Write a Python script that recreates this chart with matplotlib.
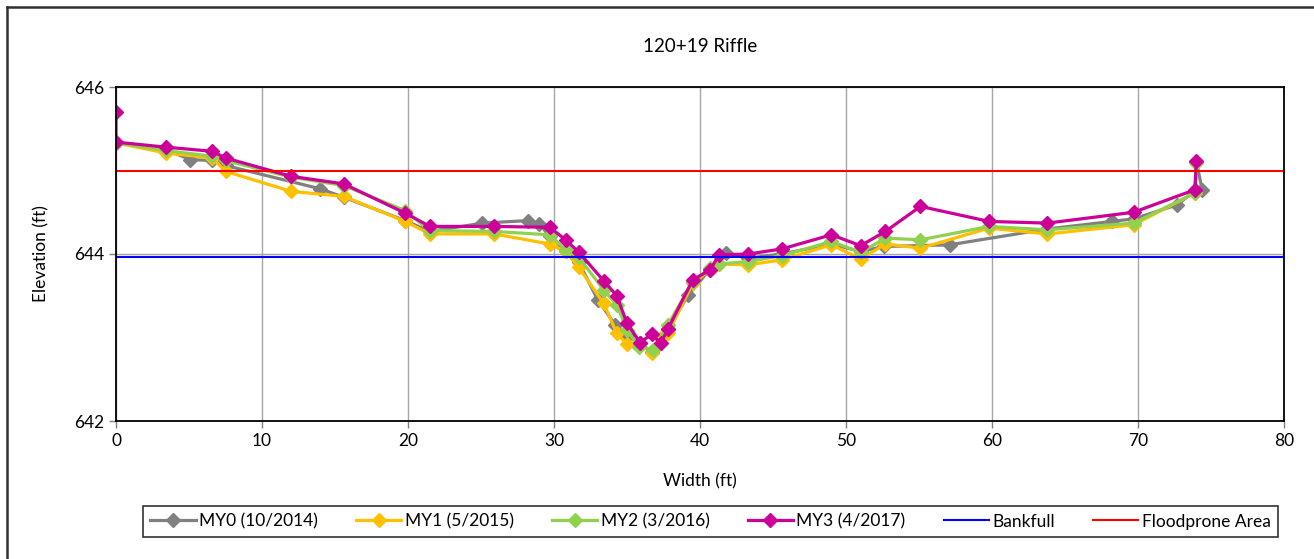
import matplotlib
matplotlib.use('Agg')
import matplotlib.pyplot as plt
from matplotlib.lines import Line2D

plt.rcParams['font.family'] = ['Lato', 'DejaVu Sans']

# cross-section survey data (width ft, elevation ft)
my0_x = [0, 3.4, 5.1, 6.6, 7.5, 14.0, 15.6, 19.8, 21.5, 25.1, 28.2, 29.0, 29.7, 30.8, 31.7, 33.0,
         34.2, 35.0, 35.9, 36.7, 37.8, 39.2, 40.7, 41.8, 43.3, 45.6, 49.0, 51.0, 52.6, 57.1, 63.8,
         68.2, 69.7, 72.7, 73.9, 74.0, 74.4]
my0_y = [645.33, 645.25, 645.13, 645.12, 645.06, 644.78, 644.68, 644.40, 644.27, 644.37, 644.40,
         644.36, 644.21, 644.03, 643.90, 643.45, 643.15, 643.02, 642.93, 642.83, 643.10, 643.51,
         643.82, 644.01, 643.95, 644.00, 644.12, 644.03, 644.09, 644.11, 644.30, 644.39, 644.42,
         644.59, 644.76, 645.10, 644.77]

my1_x = [0, 3.4, 6.6, 7.5, 12.0, 15.6, 19.8, 21.5, 25.9, 29.7, 30.8, 31.7, 33.4, 34.3, 35.0, 35.9,
         36.7, 37.3, 37.8, 39.5, 40.7, 41.3, 43.3, 45.6, 49.0, 51.0, 52.7, 55.1, 59.8, 63.8, 69.7,
         73.9, 74.0]
my1_y = [645.33, 645.21, 645.15, 644.99, 644.75, 644.69, 644.39, 644.24, 644.24, 644.12, 644.03,
         643.84, 643.41, 643.05, 642.92, 642.93, 642.81, 642.99, 643.05, 643.65, 643.81, 643.88,
         643.87, 643.93, 644.11, 643.94, 644.12, 644.07, 644.31, 644.24, 644.35, 644.73, 645.10]

my2_x = [0, 3.4, 6.6, 7.5, 12.0, 15.6, 19.8, 21.5, 25.9, 29.7, 30.8, 31.7, 33.4, 34.3, 35.0, 35.8,
         36.8, 37.8, 39.5, 40.7, 41.3, 43.3, 45.6, 49.0, 51.0, 52.7, 55.1, 59.8, 63.8, 69.7, 73.9,
         74.0]
my2_y = [645.33, 645.24, 645.17, 645.12, 644.92, 644.82, 644.52, 644.28, 644.27, 644.23, 644.05,
         643.96, 643.57, 643.39, 643.09, 642.89, 642.85, 643.15, 643.67, 643.83, 643.88, 643.91,
         643.98, 644.15, 644.02, 644.19, 644.17, 644.33, 644.29, 644.37, 644.73, 645.09]

my3_x = [0, 0, 3.4, 6.6, 7.5, 12.0, 15.6, 19.8, 21.5, 25.9, 29.7, 30.8, 31.7, 33.4, 34.3, 35.0,
         35.9, 36.7, 37.3, 37.8, 39.5, 40.7, 41.3, 43.3, 45.6, 49.0, 51.0, 52.7, 55.1, 59.8, 63.8,
         69.7, 73.9, 74.0]
my3_y = [645.70, 645.34, 645.28, 645.23, 645.15, 644.93, 644.84, 644.49, 644.33, 644.33, 644.32,
         644.17, 644.02, 643.68, 643.50, 643.17, 642.94, 643.04, 642.93, 643.10, 643.69, 643.81,
         643.99, 644.00, 644.06, 644.23, 644.10, 644.27, 644.57, 644.39, 644.37, 644.50, 644.77,
         645.11]

bankfull_elev = 643.97
floodprone_elev = 645.0
x_range = [0, 80]

fig = plt.figure(figsize=(13.14, 5.59), dpi=100)
ax = fig.add_axes([116 / 1314, 1 - 421 / 559, 1168 / 1314, 334 / 559])

# gridlines behind the data
ax.set_axisbelow(True)
ax.grid(True, color='#a6a6a6', linewidth=1)

series = [
    (my0_x, my0_y, '#808080', 'MY0 (10/2014)'),
    (my1_x, my1_y, '#FFC000', 'MY1 (5/2015)'),
    (my2_x, my2_y, '#92D050', 'MY2 (3/2016)'),
    (my3_x, my3_y, '#CC0099', 'MY3 (4/2017)'),
]
for xs, ys, c, lab in series:
    ax.plot(xs, ys, color=c, linewidth=2.3, marker='D', markersize=7.5, label=lab)

ax.plot(x_range, [bankfull_elev] * 2, color='#0000FF', linewidth=1.5, label='Bankfull')
ax.plot(x_range, [floodprone_elev] * 2, color='#FF0000', linewidth=1.5, label='Floodprone Area')

ax.set_xlim(0, 80)
ax.set_ylim(642, 646)
ax.set_xticks(range(0, 81, 10))
ax.set_yticks([642, 644, 646])
ax.tick_params(labelsize=12.5, length=5, color='#808080', width=1)
for sp in ax.spines.values():
    sp.set_color('black')
    sp.set_linewidth(1.3)

ax.set_title('120+19 Riffle', fontsize=13.5, pad=25)
ax.set_xlabel('Width (ft)', fontsize=12.5, labelpad=18)
ax.set_ylabel('Elevation (ft)', fontsize=12.5, labelpad=18)

leg = fig.legend(loc='center', bbox_to_anchor=((137 + 1284) / 2 / 1314, 1 - 521.5 / 559),
                 ncol=6, fontsize=12.5, frameon=True, fancybox=False, edgecolor='black',
                 handlelength=2.6, columnspacing=2.2, handletextpad=0.2, borderpad=0.45)
leg.get_frame().set_linewidth(1.2)

# chart-area border (top and left edges visible in the source)
fig.add_artist(Line2D([7 / 1314, 1], [1 - 7 / 559, 1 - 7 / 559], color='#303030', linewidth=1.8))
fig.add_artist(Line2D([7 / 1314, 7 / 1314], [0, 1 - 7 / 559], color='#303030', linewidth=1.8))

fig.savefig('out.png', dpi=100)
